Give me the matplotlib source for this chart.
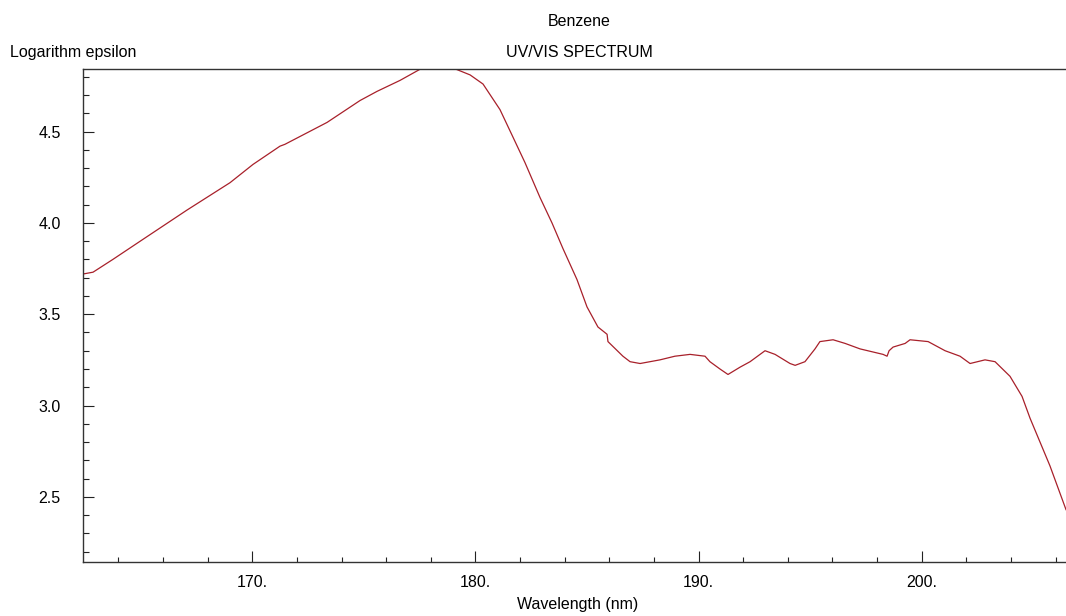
import matplotlib
matplotlib.use("Agg")
import matplotlib.pyplot as plt
from matplotlib.ticker import MultipleLocator, FuncFormatter

plt.rcParams['font.family'] = ['Liberation Sans', 'DejaVu Sans']

# spectrum (wavelength nm, log epsilon)
wavelength = [162.41, 162.86, 163.75, 165.10, 167.07, 169.00, 170.03, 171.24,
              171.46, 173.35, 174.83, 175.59, 176.62, 177.65, 178.30, 178.95,
              179.76, 180.34, 181.10, 181.68, 182.22, 182.89, 183.43, 183.92,
              184.55, 185.00, 185.49, 185.90, 185.94, 186.61, 186.93, 187.38,
              188.27, 188.94, 189.62, 190.29, 190.51, 190.96, 191.32, 191.86,
              192.31, 192.98, 193.43, 194.10, 194.33, 194.77, 195.22, 195.44,
              196.03, 196.57, 197.24, 198.27, 198.45, 198.54, 198.72, 199.26,
              199.48, 200.29, 201.05, 201.72, 202.17, 202.84, 203.29, 203.96,
              204.50, 204.86, 205.75, 206.47]
log_eps = [3.72, 3.73, 3.80, 3.91, 4.07, 4.22, 4.32, 4.42,
           4.43, 4.55, 4.67, 4.72, 4.78, 4.85, 4.87, 4.85,
           4.81, 4.76, 4.62, 4.47, 4.33, 4.14, 4.00, 3.86,
           3.69, 3.54, 3.43, 3.39, 3.35, 3.27, 3.24, 3.23,
           3.25, 3.27, 3.28, 3.27, 3.24, 3.20, 3.17, 3.21,
           3.24, 3.30, 3.28, 3.23, 3.22, 3.24, 3.31, 3.35,
           3.36, 3.34, 3.31, 3.28, 3.27, 3.30, 3.32, 3.34,
           3.36, 3.35, 3.30, 3.27, 3.23, 3.25, 3.24, 3.16,
           3.05, 2.93, 2.67, 2.43]

W, H = 1066, 616
fig = plt.figure(figsize=(W / 100, H / 100), dpi=100)
ax = fig.add_axes([83 / W, (H - 561.7) / H, (W - 83) / W, (561.7 - 68.7) / H])

ax.plot(wavelength, log_eps, color='#a8202a', linewidth=0.9)

ax.set_xlim(162.41, 206.47)
ax.set_ylim(2.145, 4.844)

ax.xaxis.set_major_locator(MultipleLocator(10))
ax.xaxis.set_minor_locator(MultipleLocator(2))
ax.yaxis.set_major_locator(MultipleLocator(0.5))
ax.yaxis.set_minor_locator(MultipleLocator(0.1))
ax.xaxis.set_major_formatter(FuncFormatter(lambda v, p: '%d.' % round(v)))
ax.yaxis.set_major_formatter(FuncFormatter(lambda v, p: '%.1f' % v))

ax.tick_params(axis='x', which='major', direction='in', length=7.7, width=0.8,
               pad=9.5, labelsize=11.5, color='#222222')
ax.tick_params(axis='x', which='minor', direction='in', length=3.6, width=0.8,
               color='#222222')
ax.tick_params(axis='y', which='major', direction='in', length=8, width=0.8,
               pad=16, labelsize=11.5, color='#222222')
ax.tick_params(axis='y', which='minor', direction='in', length=4.3, width=0.8,
               color='#222222')

ax.spines['right'].set_visible(False)
for s in ['left', 'bottom', 'top']:
    ax.spines[s].set_color('#333333')
    ax.spines[s].set_linewidth(1.0)

fig.text(579 / W, 1 - 21 / H, 'Benzene', ha='center', va='center', fontsize=11.5)
fig.text(579 / W, 1 - 52.5 / H, 'UV/VIS SPECTRUM', ha='center', va='center', fontsize=11.5)
fig.text(10 / W, 1 - 52.5 / H, 'Logarithm epsilon', ha='left', va='center', fontsize=11.5)
fig.text(578 / W, 1 - 605 / H, 'Wavelength (nm)', ha='center', va='center', fontsize=11.5)

fig.savefig('out.png', dpi=100)
